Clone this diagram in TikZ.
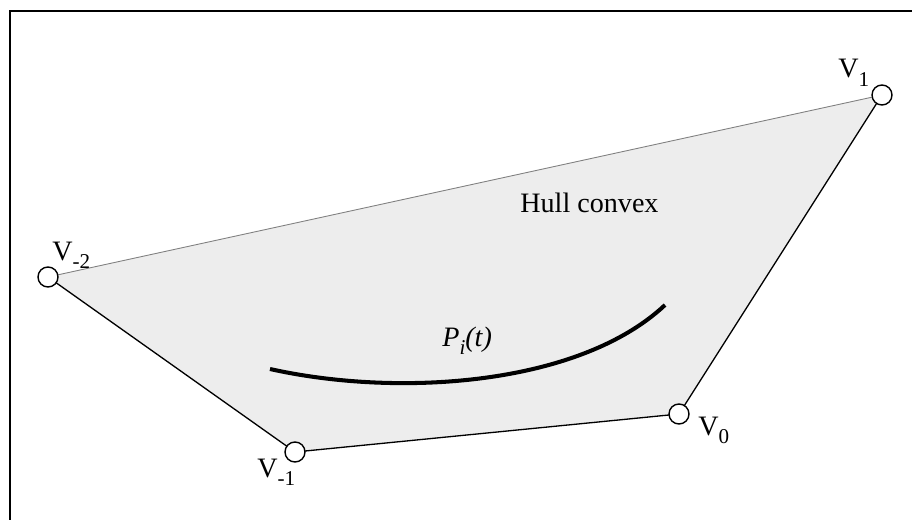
\documentclass[tikz,border=0pt]{standalone}
\usepackage{fontspec}
\setmainfont{Liberation Serif}
\usepackage{tikz}

\newcommand{\vsub}[1]{\raisebox{-0.3em}{\fontsize{12}{13}\selectfont #1}}
\tikzset{
  vertex/.style={circle,draw=black,fill=white,line width=0.8pt,minimum size=0.4cm,inner sep=0pt},
  vlabel/.style={anchor=base west,inner sep=0pt,font=\fontsize{16}{19}\selectfont},
}

\begin{document}
\begin{tikzpicture}[x=0.02cm,y=-0.02cm]
\useasboundingbox (0,0) rectangle (912,520);
\draw[line width=0.85pt] (10,520)--(10,11)--(912,11);
\coordinate (vm2) at (48,277);
\coordinate (v1) at (882,95);
\coordinate (v0) at (679,414);
\coordinate (vm1) at (295,452);
\fill[black!7] (vm2)--(v1)--(v0)--(vm1)--cycle;
\draw[gray,line width=0.5pt] (vm2)--(v1);
\draw[line width=0.75pt] (v1)--(v0)--(vm1)--(vm2);
\foreach \p in {vm2,v1,v0,vm1}{
  \node[vertex] at (\p){};
}
\node[vlabel] (lm2) at (52,260) {V\vsub{-2}};
\node[vlabel] (l1) at (838,78) {V\vsub{1}};
\node[vlabel] (l0) at (698,435) {V\vsub{0}};
\node[vlabel] (lm1) at (257,477) {V\vsub{-1}};
\node[vlabel] (hull) at (520,213) {Hull convex};
% curve P_i(t)
\coordinate (ca) at (270,369);
\coordinate (cb) at (665,305);
\draw[line width=2.3pt] (ca) .. controls (400,398) and (580,385) .. (cb);
\node[vlabel] (pit) at (442,346) {\textit{P}\vsub{\textit{i}}\textit{(t)}};
\end{tikzpicture}
\end{document}
